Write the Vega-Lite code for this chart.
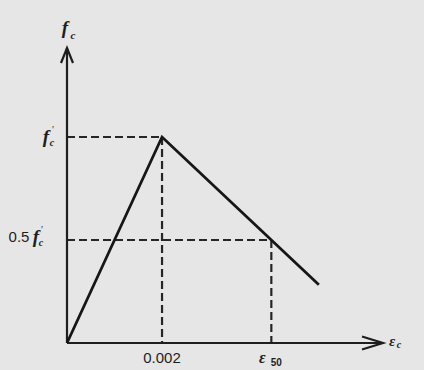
{
  "$schema": "https://vega.github.io/schema/vega-lite/v6.json",
  "width": 316,
  "height": 295,
  "autosize": "none",
  "padding": {"left": 67, "top": 48, "right": 41, "bottom": 27},
  "background": "#e6e6e6",
  "config": {"view": {"stroke": null}},
  "encoding": {
    "x": {"field": "x", "type": "quantitative", "axis": null, "scale": {"domain": [0, 0.00665], "nice": false, "zero": true}},
    "y": {"field": "y", "type": "quantitative", "axis": null, "scale": {"domain": [0, 1.432], "nice": false, "zero": true}}
  },
  "layer": [
    {
      "description": "Dashed guides to the peak and to the 0.5 f'c point",
      "data": {"values": [
        {"g": "peak-h", "x": 0, "y": 1},
        {"g": "peak-h", "x": 0.002, "y": 1},
        {"g": "peak-v", "x": 0.002, "y": 1},
        {"g": "peak-v", "x": 0.002, "y": 0},
        {"g": "half-h", "x": 0, "y": 0.5},
        {"g": "half-h", "x": 0.0043, "y": 0.5},
        {"g": "half-v", "x": 0.0043, "y": 0.5},
        {"g": "half-v", "x": 0.0043, "y": 0}
      ]},
      "mark": {"type": "line", "color": "#262626", "strokeWidth": 2.2, "strokeDash": [8, 4]},
      "encoding": {"detail": {"field": "g"}}
    },
    {
      "description": "Coordinate axes",
      "data": {"values": [
        {"axis": "x", "x": 0, "y": 0},
        {"axis": "x", "x": 0.00665, "y": 0},
        {"axis": "y", "x": 0, "y": 0},
        {"axis": "y", "x": 0, "y": 1.432}
      ]},
      "mark": {"type": "line", "color": "#1e1e1e", "strokeWidth": 2.2},
      "encoding": {"detail": {"field": "axis"}}
    },
    {
      "description": "Arrowhead on the stress axis",
      "data": {"values": [{"x": 0, "y": 1.432}]},
      "mark": {"type": "point", "filled": false, "shape": "M-0.6,1.5 L0,0 L0.6,1.5", "size": 400, "stroke": "#1e1e1e", "strokeWidth": 2.2, "opacity": 1}
    },
    {
      "description": "Arrowhead on the strain axis",
      "data": {"values": [{"x": 0.00665, "y": 0}]},
      "mark": {"type": "point", "filled": false, "shape": "M-2.1,-0.65 L0,0 L-2.1,0.65", "size": 400, "stroke": "#1e1e1e", "strokeWidth": 2.2, "opacity": 1}
    },
    {
      "description": "Stress-strain curve: linear rise to the peak, linear descent",
      "data": {"values": [
        {"x": 0, "y": 0},
        {"x": 0.002, "y": 1},
        {"x": 0.0053, "y": 0.283}
      ]},
      "mark": {"type": "line", "color": "#161616", "strokeWidth": 2.8}
    },
    {
      "data": {"values": [{"x": 0, "y": 1.432, "t": "f"}]},
      "mark": {"type": "text", "font": "Liberation Serif", "fontStyle": "italic", "fontWeight": "bold", "fontSize": 19, "color": "#1e1e1e", "align": "center", "baseline": "middle", "dx": -2, "dy": -20},
      "encoding": {"text": {"field": "t"}}
    },
    {
      "data": {"values": [{"x": 0, "y": 1.432, "t": "c"}]},
      "mark": {"type": "text", "font": "Liberation Serif", "fontStyle": "italic", "fontWeight": "bold", "fontSize": 11, "color": "#1e1e1e", "align": "center", "baseline": "middle", "dx": 6, "dy": -12},
      "encoding": {"text": {"field": "t"}}
    },
    {
      "data": {"values": [{"x": 0, "y": 1, "t": "f"}]},
      "mark": {"type": "text", "font": "Liberation Serif", "fontStyle": "italic", "fontWeight": "bold", "fontSize": 19, "color": "#1e1e1e", "align": "center", "baseline": "middle", "dx": -21, "dy": 0},
      "encoding": {"text": {"field": "t"}}
    },
    {
      "data": {"values": [{"x": 0, "y": 1, "t": "′"}]},
      "mark": {"type": "text", "font": "Liberation Serif", "fontSize": 10, "color": "#1e1e1e", "align": "center", "baseline": "middle", "dx": -14, "dy": -7},
      "encoding": {"text": {"field": "t"}}
    },
    {
      "data": {"values": [{"x": 0, "y": 1, "t": "c"}]},
      "mark": {"type": "text", "font": "Liberation Serif", "fontStyle": "italic", "fontWeight": "bold", "fontSize": 10, "color": "#1e1e1e", "align": "center", "baseline": "middle", "dx": -15, "dy": 6},
      "encoding": {"text": {"field": "t"}}
    },
    {
      "data": {"values": [{"x": 0, "y": 0.5, "t": "0.5"}]},
      "mark": {"type": "text", "font": "Liberation Sans", "fontSize": 15, "color": "#1e1e1e", "align": "center", "baseline": "middle", "dx": -48, "dy": -3},
      "encoding": {"text": {"field": "t"}}
    },
    {
      "data": {"values": [{"x": 0, "y": 0.5, "t": "f"}]},
      "mark": {"type": "text", "font": "Liberation Serif", "fontStyle": "italic", "fontWeight": "bold", "fontSize": 19, "color": "#1e1e1e", "align": "center", "baseline": "middle", "dx": -31, "dy": -3},
      "encoding": {"text": {"field": "t"}}
    },
    {
      "data": {"values": [{"x": 0, "y": 0.5, "t": "′"}]},
      "mark": {"type": "text", "font": "Liberation Serif", "fontSize": 10, "color": "#1e1e1e", "align": "center", "baseline": "middle", "dx": -25, "dy": -10},
      "encoding": {"text": {"field": "t"}}
    },
    {
      "data": {"values": [{"x": 0, "y": 0.5, "t": "c"}]},
      "mark": {"type": "text", "font": "Liberation Serif", "fontStyle": "italic", "fontWeight": "bold", "fontSize": 10, "color": "#1e1e1e", "align": "center", "baseline": "middle", "dx": -26, "dy": 3},
      "encoding": {"text": {"field": "t"}}
    },
    {
      "data": {"values": [{"x": 0.002, "y": 0, "t": "0.002"}]},
      "mark": {"type": "text", "font": "Liberation Sans", "fontSize": 15, "color": "#1e1e1e", "align": "center", "baseline": "middle", "dx": 0, "dy": 15},
      "encoding": {"text": {"field": "t"}}
    },
    {
      "data": {"values": [{"x": 0.0043, "y": 0, "t": "ε"}]},
      "mark": {"type": "text", "font": "Liberation Serif", "fontStyle": "italic", "fontWeight": "bold", "fontSize": 16, "color": "#1e1e1e", "align": "center", "baseline": "middle", "dx": -9, "dy": 15},
      "encoding": {"text": {"field": "t"}}
    },
    {
      "data": {"values": [{"x": 0.0043, "y": 0, "t": "50"}]},
      "mark": {"type": "text", "font": "Liberation Sans", "fontWeight": "bold", "fontSize": 10, "color": "#1e1e1e", "align": "center", "baseline": "middle", "dx": 5, "dy": 20},
      "encoding": {"text": {"field": "t"}}
    },
    {
      "data": {"values": [{"x": 0.00665, "y": 0, "t": "ε"}]},
      "mark": {"type": "text", "font": "Liberation Serif", "fontStyle": "italic", "fontWeight": "bold", "fontSize": 15, "color": "#1e1e1e", "align": "center", "baseline": "middle", "dx": 9, "dy": -2},
      "encoding": {"text": {"field": "t"}}
    },
    {
      "data": {"values": [{"x": 0.00665, "y": 0, "t": "c"}]},
      "mark": {"type": "text", "font": "Liberation Serif", "fontStyle": "italic", "fontWeight": "bold", "fontSize": 10, "color": "#1e1e1e", "align": "center", "baseline": "middle", "dx": 16, "dy": 2},
      "encoding": {"text": {"field": "t"}}
    }
  ]
}
